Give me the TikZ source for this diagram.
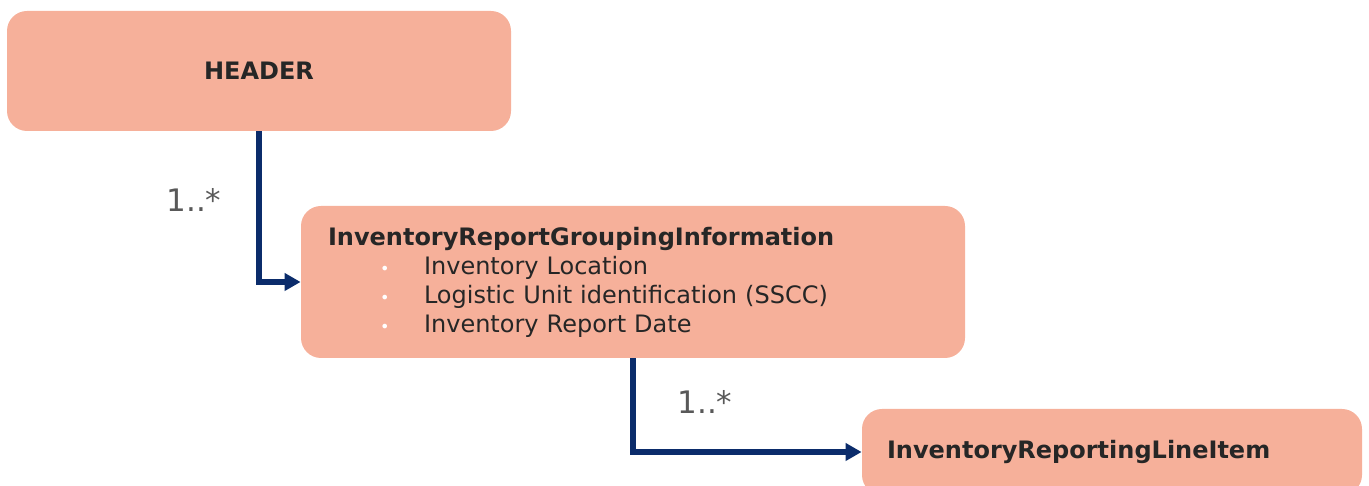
\documentclass[tikz,border=0pt]{standalone}
\usepackage{fontspec}
\setmainfont{DejaVu Sans}
\usetikzlibrary{arrows.meta}
\definecolor{boxfill}{HTML}{F6B09A}
\definecolor{linknavy}{HTML}{0B2C6B}
\definecolor{boxtext}{HTML}{262626}
\definecolor{multgray}{HTML}{595959}
\tikzset{
  class box/.style={
    rounded corners=10pt,
    fill=boxfill,
    text=boxtext,
    font=\fontsize{12}{14.5}\selectfont,
  },
  link/.style={
    draw=linknavy,
    line width=2.8pt,
    -{Triangle[length=8pt,width=8.5pt]},
  },
  mult/.style={
    text=multgray,
    font=\fontsize{15.5}{18}\selectfont,
  },
}
\newcommand{\attritem}[1]{\hspace*{26pt}\makebox[22pt][l]{\textcolor{white}{\footnotesize\textbullet}}#1}

\begin{document}
\begin{tikzpicture}[x=0.5pt, y=0.5pt]
        \useasboundingbox (0,0) rectangle (1369,486);
        \clip (0,0) rectangle (1369,486);

        % classes
        \node[class box, minimum width=252pt, minimum height=60pt] (header) at (259,415) {\textbf{HEADER}};
        \node[class box, minimum height=76pt, inner xsep=13.5pt, text width=305pt, align=left] (grouping) at (633,204)
          {\textbf{InventoryReportGroupingInformation}\\
           \attritem{Inventory Location}\\
           \attritem{Logistic Unit identification (SSCC)}\\
           \attritem{Inventory Report Date}};
        \node[class box, minimum height=43pt, inner xsep=12.5pt, text width=225pt, align=left] (lineitem) at (1112,34)
          {\textbf{InventoryReportingLineItem}};

        % links
        \draw[link] (header.south) |- (grouping.west);
        \draw[link] (grouping.south) |- (lineitem.west);

        \node[mult] (mult1) at (194,286) {1..*};
        \node[mult] (mult2) at (705,84) {1..*};
\end{tikzpicture}
\end{document}
